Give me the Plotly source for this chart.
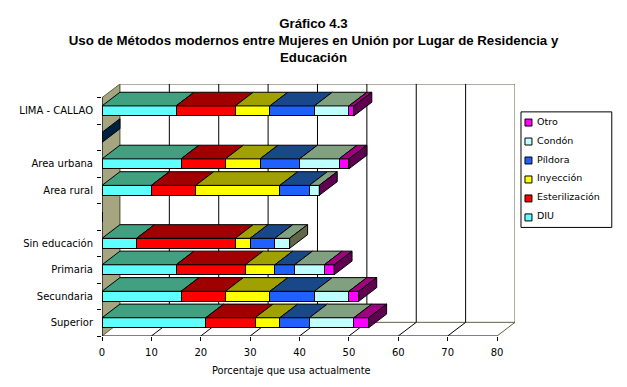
import plotly.graph_objects as go

categories = ["LIMA - CALLAO", "", "Area urbana", "Area rural", "", "Sin educación",
              "Primaria", "Secundaria", "Superior"]
diu = [15, 0, 16, 10, 0, 7, 15, 16, 21]
esterilizacion = [12, 0, 9, 9, 0, 20, 14, 9, 10]
inyeccion = [7, 0, 7, 17, 0, 3, 6, 9, 5]
pildora = [9, 0, 8, 6, 0, 5, 4, 9, 6]
condon = [7, 0, 8, 2, 0, 3, 6, 7, 9]
otro = [1, 0, 2, 0, 0, 0, 2, 2, 3]
series_names = ["DIU", "Esterilización", "Inyección", "Píldora", "Condón", "Otro"]
series_values = [diu, esterilizacion, inyeccion, pildora, condon, otro]
front_colors = ["#60FFFF", "#FF0000", "#FFFF00", "#2060FF", "#C0FFFF", "#FF00FF"]
top_colors = ["#40A080", "#A00000", "#A0A000", "#184888", "#80A080", "#A00080"]
side_colors = ["#600050", "#002040", "#600050", "#600050", None, "#606848",
               "#600050", "#600050", "#600050"]
x_ticks = [0, 10, 20, 30, 40, 50, 60, 70, 80]

FONT = "DejaVu Sans"
L, R, T, B = 101.5, 515.5, 83.5, 336.5      # plot box in window pixels
W, H = 627, 387
DEPTH_X = 18 / 4.95                          # 3-D depth in axis units
DEPTH_Y = 13.7 / 26.55
BAR = 0.377
n = len(categories)
y_front_top, y_front_bot = -0.5, n - 0.5
EDGE = "#000000"
WALL_EDGE = "#5F5F3F"


def px(x):
    return (x - L) / (R - L)


def py(y):
    return (B - y) / (B - T)


fig = go.Figure()
ys = list(range(n))

# front faces
for name, vals, col in zip(series_names, series_values, front_colors):
    fig.add_trace(go.Bar(y=ys, x=vals, name=name, orientation="h", width=BAR,
                         marker=dict(color=col, line=dict(color=EDGE, width=1)),
                         showlegend=False))

# top faces, one polygon per non-empty segment
cum = [0] * n
for vals, col in zip(series_values, top_colors):
    xs, yy = [], []
    for i in range(n):
        if vals[i] > 0:
            a, b = cum[i], cum[i] + vals[i]
            t = i - BAR / 2
            xs += [a, b, b + DEPTH_X, a + DEPTH_X, a, None]
            yy += [t, t, t - DEPTH_Y, t - DEPTH_Y, t, None]
        cum[i] += vals[i]
    fig.add_trace(go.Scatter(x=xs, y=yy, mode="lines", fill="toself", fillcolor=col,
                             line=dict(color=EDGE, width=1), hoverinfo="skip",
                             showlegend=False))

# side faces at the end of each stack
for i in range(n):
    if side_colors[i] is None:
        continue
    t, b = i - BAR / 2, i + BAR / 2
    e = cum[i]
    fig.add_trace(go.Scatter(x=[e, e + DEPTH_X, e + DEPTH_X, e, e],
                             y=[t, t - DEPTH_Y, b - DEPTH_Y, b, t],
                             mode="lines", fill="toself", fillcolor=side_colors[i],
                             line=dict(color=EDGE, width=1), hoverinfo="skip",
                             showlegend=False))

shapes = []
# left wall
shapes.append(dict(type="path", layer="below", fillcolor="#A5A582",
                   line=dict(color=WALL_EDGE, width=1),
                   path=f"M 0 {y_front_top} L {DEPTH_X} {y_front_top - DEPTH_Y} "
                        f"L {DEPTH_X} {y_front_bot - DEPTH_Y} L 0 {y_front_bot} Z"))
# back wall outline
shapes.append(dict(type="path", layer="below", fillcolor="#FFFFFF",
                   line=dict(color=WALL_EDGE, width=1),
                   path=f"M {DEPTH_X} {y_front_top - DEPTH_Y} L {80 + DEPTH_X} {y_front_top - DEPTH_Y} "
                        f"L {80 + DEPTH_X} {y_front_bot - DEPTH_Y} L {DEPTH_X} {y_front_bot - DEPTH_Y} Z"))
# back-wall grid and floor diagonals
for v in x_ticks[1:]:
    col = WALL_EDGE if v == x_ticks[-1] else EDGE
    if v != x_ticks[-1]:
        shapes.append(dict(type="line", layer="below", line=dict(color=EDGE, width=1),
                           x0=v + DEPTH_X, x1=v + DEPTH_X,
                           y0=y_front_top - DEPTH_Y, y1=y_front_bot - DEPTH_Y))
    shapes.append(dict(type="line", layer="below", line=dict(color=col, width=1),
                       x0=v, x1=v + DEPTH_X, y0=y_front_bot, y1=y_front_bot - DEPTH_Y))
# front axis lines
shapes.append(dict(type="line", layer="above", line=dict(color=EDGE, width=1),
                   x0=0, x1=x_ticks[-1], y0=y_front_bot, y1=y_front_bot))
shapes.append(dict(type="line", layer="above", line=dict(color=EDGE, width=1),
                   x0=0, x1=0, y0=y_front_top, y1=y_front_bot))

# legend drawn to the original's compact geometry
annotations = []
shapes.append(dict(type="rect", xref="paper", yref="paper", layer="above",
                   x0=px(521.5), x1=px(612.5), y0=py(111.5), y1=py(227.5),
                   fillcolor="#FFFFFF", line=dict(color=EDGE, width=1)))
rows = list(zip(series_names, front_colors))[::-1]
for k, (name, col) in enumerate(rows):
    yc = 120.7 + 19.05 * k
    shapes.append(dict(type="rect", xref="paper", yref="paper", layer="above",
                       x0=px(525.5), x1=px(532.5), y0=py(yc + 5), y1=py(yc - 2),
                       fillcolor=col, line=dict(color=EDGE, width=1)))
    annotations.append(dict(text=name, xref="paper", yref="paper", x=px(535.5), y=py(yc),
                            xanchor="left", yanchor="middle", showarrow=False,
                            font=dict(family=FONT, size=9.5, color="#000000")))

# axis title, off-centre in the original
annotations.append(dict(text="Porcentaje que usa actualmente", xref="paper", yref="paper",
                        x=px(291), y=py(371), xanchor="center", yanchor="middle",
                        showarrow=False, font=dict(family=FONT, size=9.8, color="#000000")))

fig.update_layout(
    width=W, height=H, paper_bgcolor="#FFFFFF", plot_bgcolor="#FFFFFF",
    margin=dict(l=L, r=W - R, t=T, b=H - B, pad=0),
    barmode="stack", showlegend=False, shapes=shapes, annotations=annotations,
    title=dict(text="Gráfico 4.3<br>Uso de Métodos modernos entre Mujeres en Unión por Lugar de Residencia y<br>Educación",
               x=0.5, xanchor="center", xref="container",
               y=1 - 28 / H, yanchor="top",
               font=dict(family="Liberation Sans", size=13.25, color="#000000", weight="bold")),
    xaxis=dict(range=[0, 80 + DEPTH_X], tickvals=x_ticks, ticktext=[str(v) for v in x_ticks],
               ticks="outside", ticklen=4, tickcolor=EDGE, tickwidth=1,
               showgrid=False, zeroline=False, showline=False, ticklabelstandoff=3,
               tickfont=dict(family=FONT, size=10, color="#000000")),
    yaxis=dict(range=[y_front_bot, y_front_top - DEPTH_Y], tickvals=ys, ticktext=categories,
               ticks="", ticklen=0, showgrid=False, zeroline=False, showline=False,
               ticklabelstandoff=8,
               minor=dict(tickvals=[i - 0.5 for i in range(n + 1)], ticks="outside",
                          ticklen=4, tickcolor=EDGE, tickwidth=1, showgrid=False),
               tickfont=dict(family=FONT, size=10, color="#000000")),
)
fig.write_html("out.html", post_script="document.body.style.margin='0';",
               config={"displayModeBar": False})
